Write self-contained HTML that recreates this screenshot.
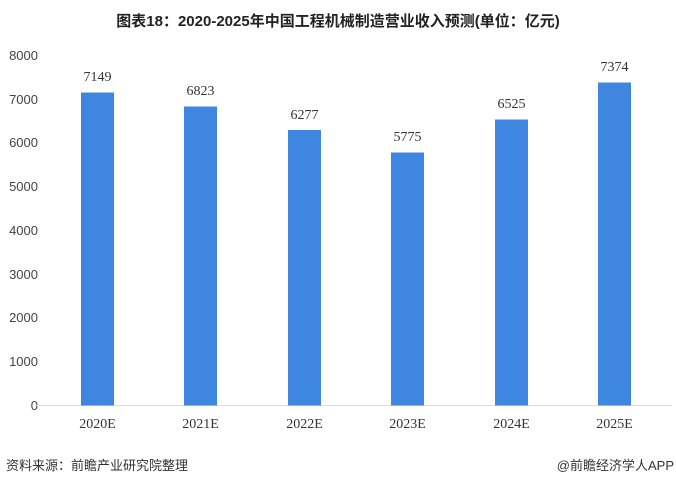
<!DOCTYPE html>
<html><head><meta charset="utf-8"><style>
body{margin:0;background:#fff;}
svg text{font-family:"Liberation Sans","Noto Sans CJK SC",sans-serif;}
svg text.n{font-family:"Liberation Serif",serif;}
</style></head><body>
<svg width="676" height="486" viewBox="0 0 676 486" xmlns="http://www.w3.org/2000/svg">
<rect width="676" height="486" fill="#fff"/>
<text x="338" y="26" text-anchor="middle" font-size="15" font-weight="bold" fill="#222">图表18：2020-2025年中国工程机械制造营业收入预测(单位：亿元)</text>
<g font-size="13" fill="#444" text-anchor="end">
<text x="38" y="410">0</text>
<text x="38" y="366">1000</text>
<text x="38" y="322">2000</text>
<text x="38" y="279">3000</text>
<text x="38" y="235">4000</text>
<text x="38" y="191">5000</text>
<text x="38" y="147">6000</text>
<text x="38" y="104">7000</text>
<text x="38" y="60">8000</text>
</g>
<line x1="35" y1="405.5" x2="672" y2="405.5" stroke="#ddd" stroke-width="1"/>
<g fill="#3f86e0">
<rect x="81" y="92.5" width="33" height="313"/>
<rect x="184" y="106.5" width="33" height="299"/>
<rect x="288" y="130" width="33" height="275.5"/>
<rect x="391" y="152.5" width="33" height="253"/>
<rect x="495" y="119.5" width="33" height="286"/>
<rect x="598" y="82.5" width="33" height="323"/>
</g>
<g font-size="14" fill="#333" text-anchor="middle">
<text class="n" x="97.5" y="81">7149</text>
<text class="n" x="200.5" y="95">6823</text>
<text class="n" x="304.5" y="119">6277</text>
<text class="n" x="407.5" y="141">5775</text>
<text class="n" x="511.5" y="108">6525</text>
<text class="n" x="614.5" y="71">7374</text>
<text class="n" x="97.5" y="428">2020E</text>
<text class="n" x="200.5" y="428">2021E</text>
<text class="n" x="304.5" y="428">2022E</text>
<text class="n" x="407.5" y="428">2023E</text>
<text class="n" x="511.5" y="428">2024E</text>
<text class="n" x="614.5" y="428">2025E</text>
</g>
<text x="6" y="470" font-size="13" fill="#333">资料来源：前瞻产业研究院整理</text>
<text x="674" y="470" font-size="13" fill="#333" text-anchor="end">@前瞻经济学人APP</text>
</svg>
</body></html>
